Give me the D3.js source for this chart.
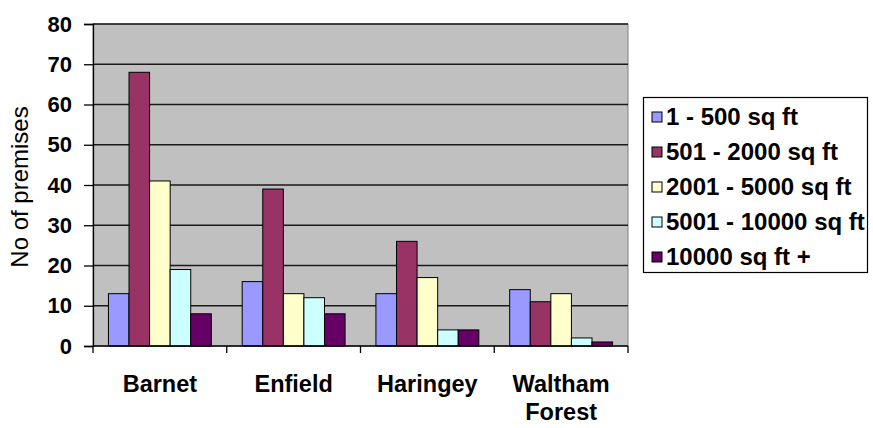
<!DOCTYPE html>
<html>
<head>
<meta charset="utf-8">
<script src="https://cdn.jsdelivr.net/npm/d3@7/dist/d3.min.js"></script>
<style>
  body { margin: 0; background: #fff; }
  svg { display: block; font-family: "Liberation Sans", Arial, sans-serif; }
</style>
</head>
<body>
<div id="chart"></div>
<script>
var boroughs = ["Barnet", "Enfield", "Haringey", "Waltham Forest"];
var sizeBands = ["1 - 500 sq ft", "501 - 2000 sq ft", "2001 - 5000 sq ft", "5001 - 10000 sq ft", "10000 sq ft +"];
var size1to500 = [13, 16, 13, 14];
var size501to2000 = [68, 39, 26, 11];
var size2001to5000 = [41, 13, 17, 13];
var size5001to10000 = [19, 12, 4, 2];
var size10000plus = [8, 8, 4, 1];
var yTicks = [0, 10, 20, 30, 40, 50, 60, 70, 80];

var colors = ["#9999FF", "#993366", "#FFFFCC", "#CCFFFF", "#660066"];
var seriesValues = [size1to500, size501to2000, size2001to5000, size5001to10000, size10000plus];

var width = 873,
    height = 428;
var plot = {left: 93, right: 628, top: 24, bottom: 346};

var svg = d3.select("#chart")
        .append("svg")
        .attr("width", width)
        .attr("height", height);

var x0 = d3.scaleBand()
        .domain(boroughs)
        .range([plot.left, plot.right])
        .padding(0);

// excel gap width 150%
var x1 = d3.scaleBand()
        .domain(d3.range(sizeBands.length))
        .range([0, x0.bandwidth()])
        .paddingInner(0)
        .paddingOuter(0.75);

var y = d3.scaleLinear()
        .domain([0, 80])
        .range([plot.bottom, plot.top]);

// plot background
svg.append("rect")
        .attr("x", plot.left)
        .attr("y", plot.top)
        .attr("width", plot.right - plot.left)
        .attr("height", plot.bottom - plot.top)
        .attr("fill", "#C0C0C0")
        .attr("stroke", "#808080")
        .attr("stroke-width", 1);

// gridlines
svg.append("g")
        .selectAll("line")
        .data(yTicks.filter(function (d) { return d > 0; }))
        .enter()
        .append("line")
        .attr("x1", plot.left)
        .attr("x2", plot.right)
        .attr("y1", function (d) { return y(d); })
        .attr("y2", function (d) { return y(d); })
        .attr("stroke", "#1a1a1a")
        .attr("stroke-width", 1.3);

// bars
var groups = svg.append("g")
        .selectAll("g")
        .data(seriesValues)
        .enter()
        .append("g")
        .attr("fill", function (d, i) { return colors[i]; });

groups.each(function (vals, si) {
    d3.select(this)
            .selectAll("rect")
            .data(vals)
            .enter()
            .append("rect")
            .attr("x", function (d, i) { return x0(boroughs[i]) + x1(si); })
            .attr("y", function (d) { return y(d); })
            .attr("width", x1.bandwidth())
            .attr("height", function (d) { return y(0) - y(d); })
            .attr("stroke", "#000")
            .attr("stroke-width", 1);
});

// y axis
var yAxis = d3.axisLeft(y)
        .tickValues(yTicks)
        .tickSize(9)
        .tickPadding(12);

var yg = svg.append("g")
        .attr("transform", "translate(" + plot.left + ",0)")
        .call(yAxis);
yg.select(".domain").attr("stroke", "#000").attr("stroke-width", 1.3);
yg.selectAll(".tick line").attr("stroke", "#000").attr("stroke-width", 1.3);
yg.selectAll(".tick text")
        .attr("font-size", "22px")
        .attr("font-weight", "bold")
        .attr("fill", "#000")
        .attr("font-family", "Liberation Sans, Arial, sans-serif");

// x axis
var xg = svg.append("g")
        .attr("transform", "translate(0," + plot.bottom + ")");
xg.append("line")
        .attr("x1", plot.left)
        .attr("x2", plot.right)
        .attr("stroke", "#000")
        .attr("stroke-width", 1.3);
xg.selectAll(".xtick")
        .data(boroughs.concat(["end"]))
        .enter()
        .append("line")
        .attr("x1", function (d, i) { return i < boroughs.length ? x0(d) : plot.right; })
        .attr("x2", function (d, i) { return i < boroughs.length ? x0(d) : plot.right; })
        .attr("y1", 0)
        .attr("y2", 7)
        .attr("stroke", "#000")
        .attr("stroke-width", 1.3);

xg.selectAll(".xlabel")
        .data(boroughs)
        .enter()
        .append("text")
        .attr("class", "xlabel")
        .attr("text-anchor", "middle")
        .attr("font-size", "23.5px")
        .attr("font-weight", "bold")
        .attr("fill", "#000")
        .each(function (d) {
            var t = d3.select(this);
            var words = d.split(" ");
            var cx = x0(d) + x0.bandwidth() / 2;
            words.forEach(function (w, i) {
                t.append("tspan")
                        .attr("x", cx)
                        .attr("y", 46 + i * 28)
                        .text(w);
            });
        });

// y title
svg.append("text")
        .attr("transform", "translate(28,187) rotate(-90)")
        .attr("text-anchor", "middle")
        .attr("font-size", "24px")
        .attr("fill", "#000")
        .text("No of premises");

// legend
var legend = svg.append("g");
legend.append("rect")
        .attr("x", 643.5)
        .attr("y", 97.5)
        .attr("width", 224)
        .attr("height", 175)
        .attr("fill", "#fff")
        .attr("stroke", "#000")
        .attr("stroke-width", 1.2);

var item = legend.selectAll(".item")
        .data(sizeBands)
        .enter()
        .append("g")
        .attr("transform", function (d, i) { return "translate(652," + (117 + i * 35) + ")"; });

item.append("rect")
        .attr("x", 0)
        .attr("y", -5)
        .attr("width", 10)
        .attr("height", 10)
        .attr("fill", function (d, i) { return colors[i]; })
        .attr("stroke", "#000")
        .attr("stroke-width", 1);

item.append("text")
        .attr("x", 14)
        .attr("y", 8)
        .attr("font-size", "24px")
        .attr("font-weight", "bold")
        .attr("fill", "#000")
        .text(function (d) { return d; });
</script>
</body>
</html>
